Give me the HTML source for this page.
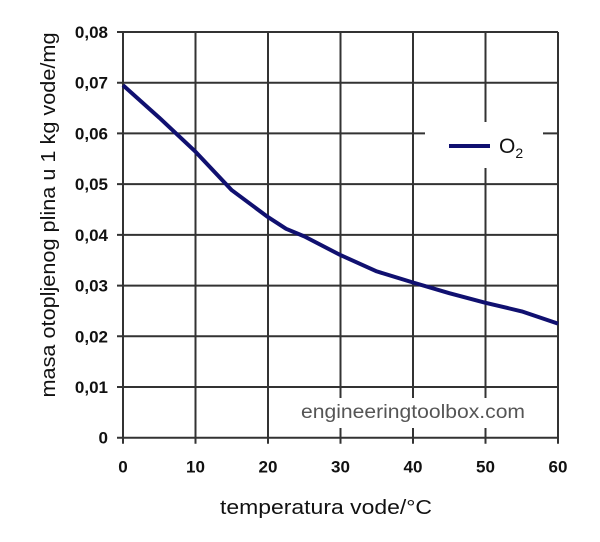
<!DOCTYPE html>
<html><head><meta charset="utf-8"><style>
body{margin:0;background:#fff;}
svg{display:block;font-family:"Liberation Sans",sans-serif;}
</style></head><body>
<svg id="chart" width="600" height="542" viewBox="0 0 600 542">
<g id="grid"></g>
<g id="ticks"></g>
<rect x="425" y="122" width="118" height="46" fill="#fff"/>
<line x1="449" y1="146" x2="490" y2="146" stroke="#101070" stroke-width="4"/>
<text x="499" y="153" font-size="21" fill="#111">O<tspan font-size="14" dy="5">2</tspan></text>
<rect x="300" y="398" width="232" height="30" fill="#fff"/>
<text x="301" y="418" font-size="19" fill="#555" textLength="224" lengthAdjust="spacingAndGlyphs">engineeringtoolbox.com</text>
<path id="series" fill="none" stroke="#101070" stroke-width="4" stroke-linejoin="round"/>
<text x="326" y="514" font-size="20" text-anchor="middle" fill="#111" textLength="212" lengthAdjust="spacingAndGlyphs">temperatura vode/°C</text>
<text transform="translate(55,215) rotate(-90)" font-size="20" text-anchor="middle" fill="#111" textLength="365" lengthAdjust="spacingAndGlyphs">masa otopljenog plina u 1 kg vode/mg</text>
</svg>
<script>
const temps=[0,5,10,15,20,22.5,25,30,35,40,45,50,55,60];
const o2=[0.0695,0.0631,0.0564,0.0488,0.0435,0.0412,0.0397,0.036,0.0328,0.0306,0.0285,0.0266,0.0249,0.0225];
const xTicks=[0,10,20,30,40,50,60];
const yTicks=[0,0.01,0.02,0.03,0.04,0.05,0.06,0.07,0.08];
const yTickLabels=["0","0,01","0,02","0,03","0,04","0,05","0,06","0,07","0,08"];
const X0=123,X1=558,Y0=437.7,Y1=32;
const sx=v=>X0+(v-0)/60*(X1-X0);
const sy=v=>Y0-(v/0.08)*(Y0-Y1);
const NS="http://www.w3.org/2000/svg";
const grid=document.getElementById('grid'),tk=document.getElementById('ticks');
function mk(tag,attrs,parent){const e=document.createElementNS(NS,tag);for(const k in attrs)e.setAttribute(k,attrs[k]);parent.appendChild(e);return e;}
xTicks.forEach(v=>{
 const l=mk('line',{x1:sx(v),x2:sx(v),y1:Y1,y2:Y0+6,stroke:'#333','stroke-width':2},grid);
 
 
 const t=mk('text',{x:sx(v),y:Y0+35,'font-size':17,'font-weight':'bold','text-anchor':'middle',fill:'#111'},tk);
 t.textContent=v;
 
 
});
yTicks.forEach((v,i)=>{
 const l=mk('line',{x1:X0-6,x2:X1,y1:sy(v),y2:sy(v),stroke:'#333','stroke-width':2},grid);
 
 
 const t=mk('text',{x:108,y:sy(v)+6,'font-size':17,'font-weight':'bold','text-anchor':'end',fill:'#111'},tk);
 t.textContent=yTickLabels[i];
 
 
});
document.getElementById('series').setAttribute('d',temps.map((t,i)=>(i?'L':'M')+sx(t).toFixed(1)+','+sy(o2[i]).toFixed(1)).join(' '));
</script>
</body></html>
